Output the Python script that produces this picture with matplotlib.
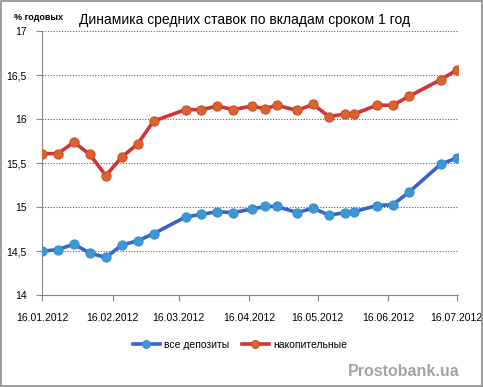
import matplotlib
matplotlib.use('Agg')
import matplotlib.pyplot as plt
import matplotlib.dates as mdates
import datetime as dt

plt.rcParams['font.family'] = ['Liberation Sans', 'DejaVu Sans']

dates = ['2012-01-16', '2012-01-23', '2012-01-30', '2012-02-06', '2012-02-13',
         '2012-02-20', '2012-02-27', '2012-03-05', '2012-03-19', '2012-03-26',
         '2012-04-02', '2012-04-09', '2012-04-17', '2012-04-23', '2012-04-28',
         '2012-05-07', '2012-05-14', '2012-05-21', '2012-05-28', '2012-06-01',
         '2012-06-11', '2012-06-18', '2012-06-25', '2012-07-09', '2012-07-16']
all_deposits = [14.50, 14.52, 14.58, 14.48, 14.43, 14.57, 14.62, 14.70, 14.89, 14.92,
                14.95, 14.94, 14.98, 15.01, 15.01, 14.94, 14.99, 14.91, 14.94, 14.95,
                15.02, 15.03, 15.17, 15.49, 15.56]
savings = [15.61, 15.61, 15.74, 15.60, 15.36, 15.57, 15.72, 15.98, 16.11, 16.11,
           16.15, 16.11, 16.15, 16.12, 16.16, 16.10, 16.17, 16.03, 16.06, 16.06,
           16.16, 16.16, 16.26, 16.45, 16.56]
x_ticks = ['2012-01-16', '2012-02-16', '2012-03-16', '2012-04-16',
           '2012-05-16', '2012-06-16', '2012-07-16']
y_ticks = [14, 14.5, 15, 15.5, 16, 16.5, 17]

x = [dt.datetime.strptime(d, '%Y-%m-%d') for d in dates]
xt = [dt.datetime.strptime(d, '%Y-%m-%d') for d in x_ticks]

fig = plt.figure(figsize=(4.83, 3.87), dpi=100)
ax = fig.add_axes([42/483, 1-295.3/387, 416/483, (295.3-31.3)/387])

ax.plot(x, all_deposits, color='#3a62c8', lw=2.6, marker='o', ms=6.6,
        mfc='#3a98d4', mec='#3a8ed0', mew=0.8, label='все депозиты', zorder=3)
ax.plot(x, savings, color='#d03434', lw=2.6, marker='o', ms=6.6,
        mfc='#d8662c', mec='#d24a30', mew=0.8, label='накопительные', zorder=3)

ax.set_ylim(14, 17)
ax.set_xlim(xt[0], xt[-1] + dt.timedelta(days=0.6))
ax.set_yticks(y_ticks)
ax.set_yticklabels([('%g' % v).replace('.', ',') for v in y_ticks])
ax.set_xticks(xt)
ax.set_xticklabels([d.strftime('%d.%m.%Y') for d in xt])

ax.grid(axis='y', color='#606060', ls=(0, (1, 1.5)), lw=0.8)
for s in ['top', 'right']:
    ax.spines[s].set_visible(False)
for s in ['left', 'bottom']:
    ax.spines[s].set_color('#868686')
ax.tick_params(axis='both', colors='#868686', labelcolor='black', labelsize=7.5, length=4)
ax.tick_params(axis='x', pad=9)
ax.tick_params(axis='y', pad=7)

fig.text(245/483, 1-20/387, 'Динамика средних ставок по вкладам сроком 1 год',
         ha='center', va='center', fontsize=10)
fig.text(14/483, 1-17/387, '% годовых', ha='left', va='center', fontsize=6.5, fontweight='bold')

ax.legend(loc='center', bbox_to_anchor=(240/483, 1-345/387), bbox_transform=fig.transFigure,
          ncol=2, frameon=False, fontsize=7.5, handlelength=2.6, columnspacing=1.2,
          handletextpad=0.4, markerscale=0.85)

fig.text(460/483, 1-371/387, 'Prostobank.ua', ha='right', va='center',
         fontsize=11.5, fontweight='bold', color='#a3a3a3')

fig.patches.append(plt.Rectangle((0.002, 0.002), 0.996, 0.996, transform=fig.transFigure,
                                 fill=False, ec='#8c8c8c', lw=1.2))

fig.savefig('out.png', dpi=100)
